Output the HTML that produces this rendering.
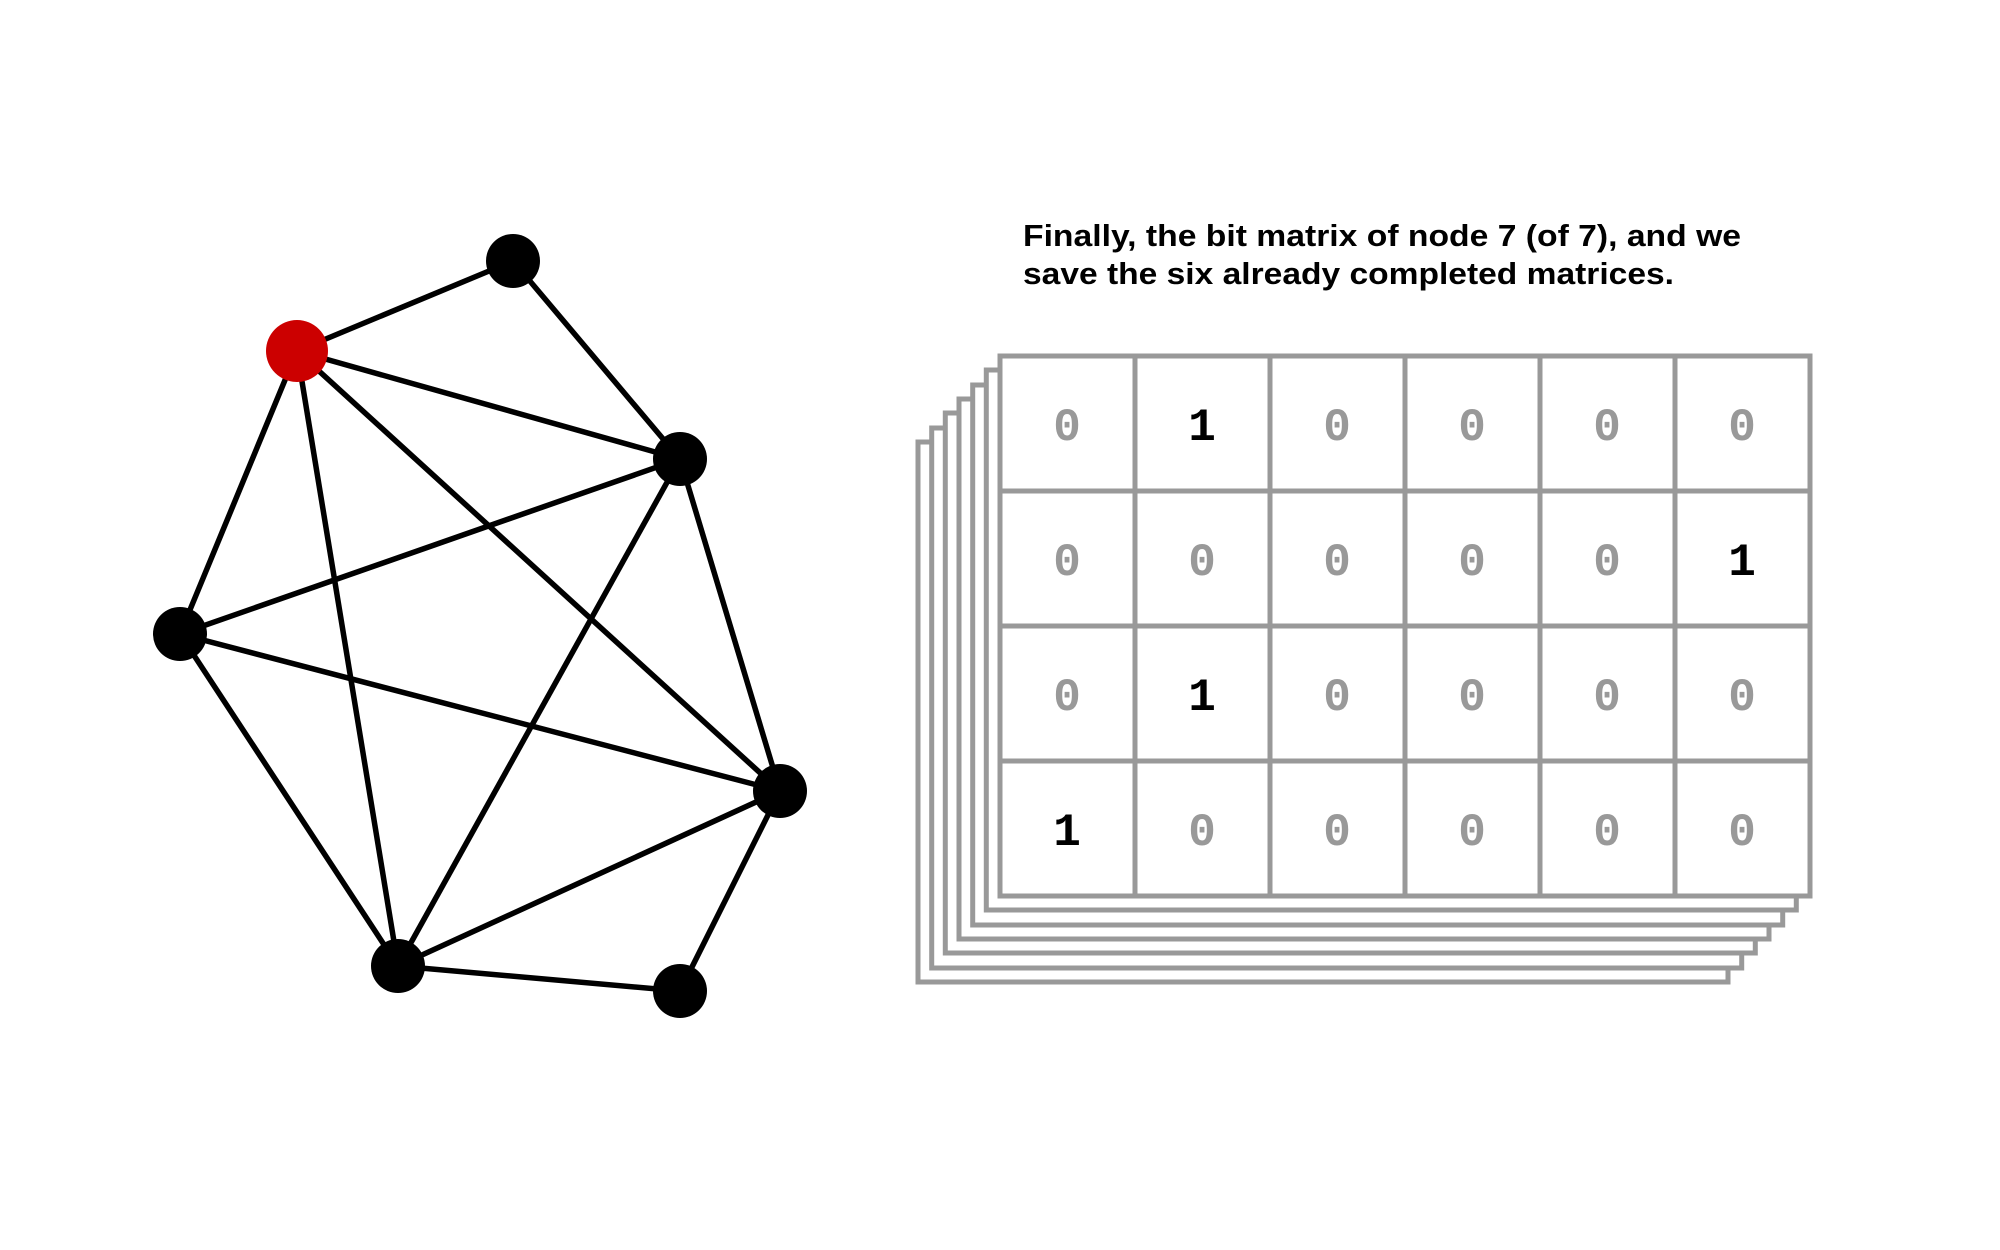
<!DOCTYPE html>
<html><head><meta charset="utf-8"><style>html,body{margin:0;padding:0;background:#fff}svg{display:block}</style></head>
<body>
<svg width="2000" height="1250" viewBox="0 0 2000 1250" xmlns="http://www.w3.org/2000/svg">
<g stroke="#000" stroke-width="5.5">
<line x1="297" y1="351" x2="513" y2="261"/>
<line x1="513" y1="261" x2="680" y2="459"/>
<line x1="297" y1="351" x2="680" y2="459"/>
<line x1="297" y1="351" x2="180" y2="634"/>
<line x1="297" y1="351" x2="398" y2="966"/>
<line x1="297" y1="351" x2="780" y2="791"/>
<line x1="680" y1="459" x2="180" y2="634"/>
<line x1="680" y1="459" x2="398" y2="966"/>
<line x1="680" y1="459" x2="780" y2="791"/>
<line x1="180" y1="634" x2="780" y2="791"/>
<line x1="180" y1="634" x2="398" y2="966"/>
<line x1="780" y1="791" x2="398" y2="966"/>
<line x1="780" y1="791" x2="680" y2="991"/>
<line x1="398" y1="966" x2="680" y2="991"/>
</g>
<circle cx="297" cy="351" r="31" fill="#cc0000"/>
<g fill="#000">
<circle cx="513" cy="261" r="27"/>
<circle cx="680" cy="459" r="27"/>
<circle cx="180" cy="634" r="27"/>
<circle cx="780" cy="791" r="27"/>
<circle cx="398" cy="966" r="27"/>
<circle cx="680" cy="991" r="27"/>
</g>
<g font-family="'Liberation Sans',sans-serif" font-weight="bold" font-size="31" fill="#000">
<text x="1023" y="246" textLength="718" lengthAdjust="spacingAndGlyphs">Finally, the bit matrix of node 7 (of 7), and we</text>
<text x="1023" y="284" textLength="651" lengthAdjust="spacingAndGlyphs">save the six already completed matrices.</text>
</g>
<g fill="#fff" stroke="#999" stroke-width="5">
<rect x="918" y="442" width="810" height="540"/>
<rect x="931.7" y="428" width="810" height="540"/>
<rect x="945.3" y="413" width="810" height="540"/>
<rect x="959" y="399" width="810" height="540"/>
<rect x="972.7" y="385" width="810" height="540"/>
<rect x="986.3" y="370" width="810" height="540"/>
<rect x="1000" y="356" width="810" height="540"/>
<line x1="1135" y1="356" x2="1135" y2="896"/>
<line x1="1270" y1="356" x2="1270" y2="896"/>
<line x1="1405" y1="356" x2="1405" y2="896"/>
<line x1="1540" y1="356" x2="1540" y2="896"/>
<line x1="1675" y1="356" x2="1675" y2="896"/>
<line x1="1000" y1="491" x2="1810" y2="491"/>
<line x1="1000" y1="626" x2="1810" y2="626"/>
<line x1="1000" y1="761" x2="1810" y2="761"/>
</g>
<g font-family="'Liberation Mono',monospace" font-weight="bold" font-size="46" text-anchor="middle">
<g fill="#999">
<text x="1067" y="440">0</text><text x="1337" y="440">0</text><text x="1472" y="440">0</text><text x="1607" y="440">0</text><text x="1742" y="440">0</text>
<text x="1067" y="575">0</text><text x="1202" y="575">0</text><text x="1337" y="575">0</text><text x="1472" y="575">0</text><text x="1607" y="575">0</text>
<text x="1067" y="710">0</text><text x="1337" y="710">0</text><text x="1472" y="710">0</text><text x="1607" y="710">0</text><text x="1742" y="710">0</text>
<text x="1202" y="845">0</text><text x="1337" y="845">0</text><text x="1472" y="845">0</text><text x="1607" y="845">0</text><text x="1742" y="845">0</text>
</g>
<g fill="#000">
<text x="1202" y="440">1</text>
<text x="1742" y="575">1</text>
<text x="1202" y="710">1</text>
<text x="1067" y="845">1</text>
</g>
</g>
</svg>
</body></html>
